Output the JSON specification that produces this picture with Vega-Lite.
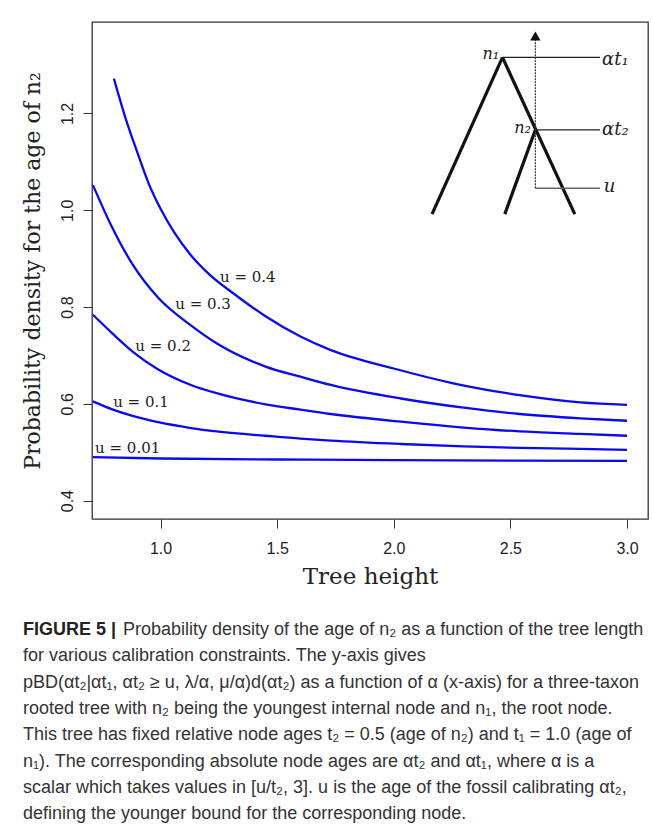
{
  "$schema": "https://vega.github.io/schema/vega-lite/v6.json",
  "width": 556,
  "height": 497,
  "padding": {"left": 21, "top": 22, "right": 2, "bottom": 2},
  "background": "white",
  "config": {
    "view": {"stroke": "#333", "strokeWidth": 1.3},
    "axis": {"grid": false, "domain": false, "tickColor": "#333", "labelColor": "#222", "titleColor": "#222"}
  },
  "title": {
    "text": "FIGURE 5 |",
    "subtitle": [
      "\u200b\u00a0\u00a0\u00a0\u00a0\u00a0\u00a0\u00a0\u00a0\u00a0\u00a0\u00a0\u00a0\u00a0\u00a0\u00a0\u00a0\u00a0\u00a0\u00a0\u00a0Probability density of the age of n₂ as a function of the tree length",
      "for various calibration constraints. The y-axis gives",
      "pBD(αt₂|αt₁, αt₂ ≥ u, λ/α, μ/α)d(αt₂) as a function of α (x-axis) for a three-taxon",
      "rooted tree with n₂ being the youngest internal node and n₁, the root node.",
      "This tree has fixed relative node ages t₂ = 0.5 (age of n₂) and t₁ = 1.0 (age of",
      "n₁). The corresponding absolute node ages are αt₂ and αt₁, where α is a",
      "scalar which takes values in [u/t₂, 3]. u is the age of the fossil calibrating αt₂,",
      "defining the younger bound for the corresponding node."
    ],
    "orient": "bottom",
    "anchor": "start",
    "frame": "bounds",
    "dx": 2,
    "font": "Liberation Sans",
    "fontSize": 18,
    "fontWeight": "bold",
    "color": "#222",
    "subtitleFont": "Liberation Sans",
    "subtitleFontSize": 18,
    "subtitleFontWeight": "normal",
    "subtitleColor": "#333",
    "subtitleLineHeight": 26.3,
    "subtitlePadding": -18,
    "offset": 33
  },
  "datasets": {
    "curves": [
      {"u": "0.4", "x": 0.8, "y": 1.272}, {"u": "0.4", "x": 0.85, "y": 1.19}, {"u": "0.4", "x": 0.9, "y": 1.12},
      {"u": "0.4", "x": 0.95, "y": 1.054}, {"u": "0.4", "x": 1.0, "y": 1.003}, {"u": "0.4", "x": 1.06, "y": 0.953},
      {"u": "0.4", "x": 1.13, "y": 0.907}, {"u": "0.4", "x": 1.21, "y": 0.867}, {"u": "0.4", "x": 1.31, "y": 0.829},
      {"u": "0.4", "x": 1.45, "y": 0.781}, {"u": "0.4", "x": 1.6, "y": 0.739}, {"u": "0.4", "x": 1.73, "y": 0.711},
      {"u": "0.4", "x": 2.0, "y": 0.673}, {"u": "0.4", "x": 2.25, "y": 0.643}, {"u": "0.4", "x": 2.54, "y": 0.618},
      {"u": "0.4", "x": 2.8, "y": 0.603}, {"u": "0.4", "x": 3.0, "y": 0.598},
      {"u": "0.3", "x": 0.71, "y": 1.052}, {"u": "0.3", "x": 0.79, "y": 0.967}, {"u": "0.3", "x": 0.88, "y": 0.888},
      {"u": "0.3", "x": 0.99, "y": 0.819}, {"u": "0.3", "x": 1.13, "y": 0.762}, {"u": "0.3", "x": 1.24, "y": 0.725},
      {"u": "0.3", "x": 1.45, "y": 0.677}, {"u": "0.3", "x": 1.6, "y": 0.656}, {"u": "0.3", "x": 1.73, "y": 0.639},
      {"u": "0.3", "x": 2.03, "y": 0.611}, {"u": "0.3", "x": 2.3, "y": 0.592}, {"u": "0.3", "x": 2.54, "y": 0.579},
      {"u": "0.3", "x": 2.8, "y": 0.57}, {"u": "0.3", "x": 3.0, "y": 0.565},
      {"u": "0.2", "x": 0.71, "y": 0.784}, {"u": "0.2", "x": 0.79, "y": 0.747}, {"u": "0.2", "x": 0.88, "y": 0.708},
      {"u": "0.2", "x": 0.99, "y": 0.671}, {"u": "0.2", "x": 1.13, "y": 0.639}, {"u": "0.2", "x": 1.24, "y": 0.622},
      {"u": "0.2", "x": 1.45, "y": 0.599}, {"u": "0.2", "x": 1.6, "y": 0.588}, {"u": "0.2", "x": 1.73, "y": 0.579},
      {"u": "0.2", "x": 2.03, "y": 0.563}, {"u": "0.2", "x": 2.3, "y": 0.551}, {"u": "0.2", "x": 2.54, "y": 0.543},
      {"u": "0.2", "x": 2.8, "y": 0.538}, {"u": "0.2", "x": 3.0, "y": 0.534},
      {"u": "0.1", "x": 0.71, "y": 0.605}, {"u": "0.1", "x": 0.79, "y": 0.589}, {"u": "0.1", "x": 0.88, "y": 0.575},
      {"u": "0.1", "x": 0.99, "y": 0.562}, {"u": "0.1", "x": 1.13, "y": 0.55}, {"u": "0.1", "x": 1.24, "y": 0.543},
      {"u": "0.1", "x": 1.45, "y": 0.534}, {"u": "0.1", "x": 1.6, "y": 0.528}, {"u": "0.1", "x": 1.73, "y": 0.524},
      {"u": "0.1", "x": 2.03, "y": 0.517}, {"u": "0.1", "x": 2.3, "y": 0.512}, {"u": "0.1", "x": 2.54, "y": 0.509},
      {"u": "0.1", "x": 2.8, "y": 0.507}, {"u": "0.1", "x": 3.0, "y": 0.505},
      {"u": "0.01", "x": 0.71, "y": 0.49}, {"u": "0.01", "x": 1.0, "y": 0.487}, {"u": "0.01", "x": 1.5, "y": 0.485},
      {"u": "0.01", "x": 2.0, "y": 0.4835}, {"u": "0.01", "x": 2.5, "y": 0.4825}, {"u": "0.01", "x": 3.0, "y": 0.482}
    ],
    "curvelabels": [
      {"x": 1.374, "y": 0.863, "text": "u = 0.4"},
      {"x": 1.182, "y": 0.806, "text": "u = 0.3"},
      {"x": 1.011, "y": 0.72, "text": "u = 0.2"},
      {"x": 0.916, "y": 0.6045, "text": "u = 0.1"},
      {"x": 0.859, "y": 0.508, "text": "u = 0.01"}
    ],
    "branches": [
      {"x": 2.466, "y": 1.316, "x2": 2.164, "y2": 0.992},
      {"x": 2.466, "y": 1.316, "x2": 2.776, "y2": 0.992},
      {"x": 2.607, "y": 1.166, "x2": 2.476, "y2": 0.992}
    ],
    "levels": [
      {"x": 2.466, "y": 1.316, "x2": 2.884, "y2": 1.316},
      {"x": 2.607, "y": 1.166, "x2": 2.884, "y2": 1.166}
    ],
    "ulevel": [
      {"x": 2.607, "y": 1.0455, "x2": 2.884, "y2": 1.0455}
    ],
    "arrowline": [
      {"x": 2.607, "y": 1.0455, "x2": 2.607, "y2": 1.355}
    ],
    "arrowhead": [
      {"x": 2.607, "y": 1.36}
    ],
    "rightlabels": [
      {"x": 2.893, "y": 1.311, "text": "αt₁"},
      {"x": 2.893, "y": 1.166, "text": "αt₂"},
      {"x": 2.9, "y": 1.048, "text": "u"}
    ],
    "nodelabels": [
      {"x": 2.452, "y": 1.323, "text": "n₁"},
      {"x": 2.588, "y": 1.17, "text": "n₂"}
    ]
  },
  "layer": [
    {
      "data": {"name": "curves"},
      "mark": {"type": "line", "color": "#0a0af0", "strokeWidth": 2.3, "interpolate": "monotone", "clip": true},
      "encoding": {
        "x": {
          "field": "x", "type": "quantitative",
          "scale": {"domain": [0.706, 3.09], "nice": false, "zero": false},
          "axis": {
            "values": [1, 1.5, 2, 2.5, 3], "format": ".1f", "title": "Tree height",
            "titleFont": "DejaVu Serif", "titleFontSize": 23, "titleFontWeight": "normal", "titlePadding": 9,
            "labelFont": "Liberation Sans", "labelFontSize": 16, "tickSize": 9, "labelPadding": 12, "labelFlush": false
          }
        },
        "y": {
          "field": "y", "type": "quantitative",
          "scale": {"domain": [0.362, 1.389], "nice": false, "zero": false},
          "axis": {
            "values": [0.4, 0.6, 0.8, 1.0, 1.2], "format": ".1f", "title": "Probability density for the age of n₂",
            "titleFont": "DejaVu Serif", "titleFontSize": 22, "titleFontWeight": "normal", "titlePadding": 15,
            "labelAngle": 270, "labelAlign": "center", "labelBaseline": "bottom",
            "labelFont": "Liberation Sans", "labelFontSize": 16, "tickSize": 9, "labelPadding": 8
          }
        },
        "detail": {"field": "u", "type": "nominal"}
      }
    },
    {
      "data": {"name": "curvelabels"},
      "mark": {"type": "text", "font": "DejaVu Serif", "fontSize": 15, "color": "#222", "align": "center", "baseline": "middle"},
      "encoding": {
        "x": {"field": "x", "type": "quantitative"},
        "y": {"field": "y", "type": "quantitative"},
        "text": {"field": "text"}
      }
    },
    {
      "data": {"name": "branches"},
      "mark": {"type": "rule", "color": "#111", "strokeWidth": 3.2, "strokeCap": "butt"},
      "encoding": {
        "x": {"field": "x", "type": "quantitative"},
        "y": {"field": "y", "type": "quantitative"},
        "x2": {"field": "x2"},
        "y2": {"field": "y2"}
      }
    },
    {
      "data": {"name": "levels"},
      "mark": {"type": "rule", "color": "#222", "strokeWidth": 1.3},
      "encoding": {
        "x": {"field": "x", "type": "quantitative"},
        "y": {"field": "y", "type": "quantitative"},
        "x2": {"field": "x2"},
        "y2": {"field": "y2"}
      }
    },
    {
      "data": {"name": "ulevel"},
      "mark": {"type": "rule", "color": "#666", "strokeWidth": 1.5},
      "encoding": {
        "x": {"field": "x", "type": "quantitative"},
        "y": {"field": "y", "type": "quantitative"},
        "x2": {"field": "x2"},
        "y2": {"field": "y2"}
      }
    },
    {
      "data": {"name": "arrowline"},
      "mark": {"type": "rule", "color": "#333", "strokeWidth": 1.2, "strokeDash": [2, 1]},
      "encoding": {
        "x": {"field": "x", "type": "quantitative"},
        "y": {"field": "y", "type": "quantitative"},
        "x2": {"field": "x2"},
        "y2": {"field": "y2"}
      }
    },
    {
      "data": {"name": "arrowhead"},
      "mark": {"type": "point", "shape": "triangle-up", "filled": true, "color": "#111", "size": 110, "opacity": 1},
      "encoding": {
        "x": {"field": "x", "type": "quantitative"},
        "y": {"field": "y", "type": "quantitative"}
      }
    },
    {
      "data": {"name": "rightlabels"},
      "mark": {"type": "text", "font": "DejaVu Serif", "fontStyle": "italic", "fontSize": 18, "color": "#222", "align": "left", "baseline": "middle"},
      "encoding": {
        "x": {"field": "x", "type": "quantitative"},
        "y": {"field": "y", "type": "quantitative"},
        "text": {"field": "text"}
      }
    },
    {
      "data": {"name": "nodelabels"},
      "mark": {"type": "text", "font": "DejaVu Serif", "fontStyle": "italic", "fontSize": 16, "color": "#222", "align": "right", "baseline": "middle"},
      "encoding": {
        "x": {"field": "x", "type": "quantitative"},
        "y": {"field": "y", "type": "quantitative"},
        "text": {"field": "text"}
      }
    }
  ]
}
